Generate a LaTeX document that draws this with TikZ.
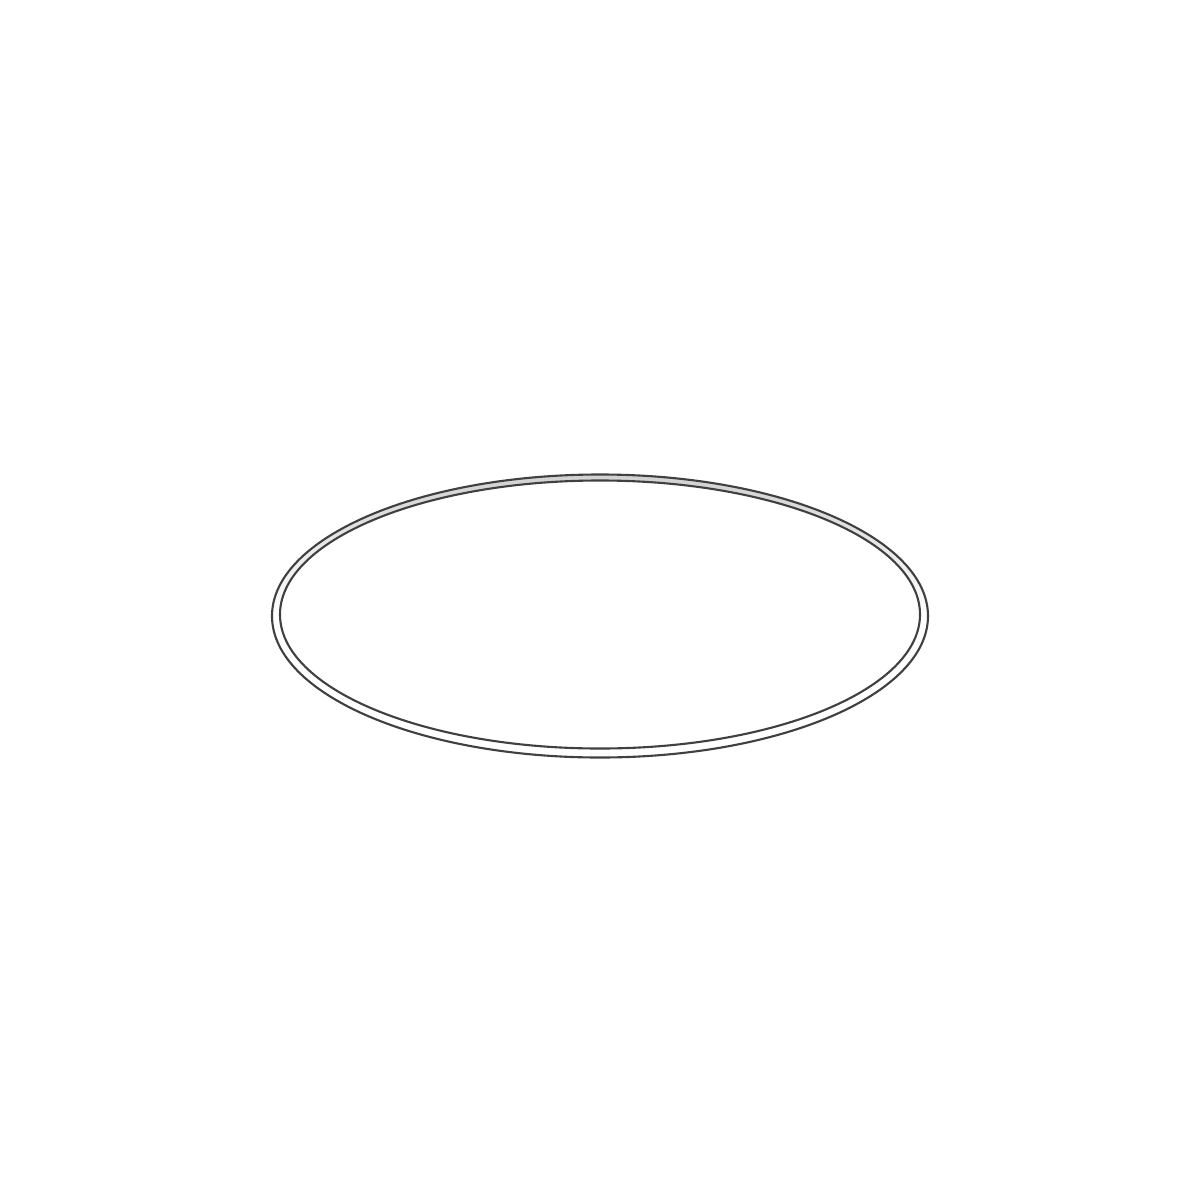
\documentclass[tikz,border=0pt]{standalone}
\usetikzlibrary{backgrounds}
\tikzset{%
  % Specifications for style of the ring:
            rim/.style = {draw=black!75, line width=0.6pt},
            band/.style = {top color=black!18, bottom color=white,
                            middle color=white, even odd rule}
}
\begin{document}
\begin{tikzpicture}[x=0.01cm, y=-0.01cm]
                        \useasboundingbox (0,0) rectangle (1200,1200);
                        \coordinate (outerc) at (600,616);
                        \coordinate (innerc) at (600,614.5);
                        \path[band] (outerc) ellipse [x radius=328, y radius=141.5]
                                    (innerc) ellipse [x radius=320, y radius=134];
                        \draw[rim] (outerc) ellipse [x radius=328, y radius=141.5];
                        \draw[rim] (innerc) ellipse [x radius=320, y radius=134];
                    \end{tikzpicture}
\end{document}
